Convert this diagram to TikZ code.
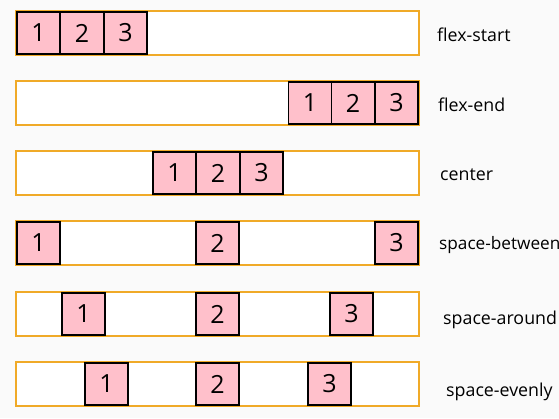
\documentclass[tikz,border=0pt]{standalone}
\usepackage{fontspec}
\setmainfont{Open Sans}
\usepackage{tikz}
\usepackage{xcolor}

\definecolor{boxline}{RGB}{240,170,40}
\definecolor{itempink}{RGB}{255,192,203}
\definecolor{pagebg}{RGB}{250,250,250}

\tikzset{
  flexbox/.style={rectangle, draw=boxline, line width=1.5pt, fill=white, minimum width=403pt, minimum height=44pt, inner sep=0pt},
  flexitem/.style={rectangle, draw=black, line width=1.6pt, fill=itempink, minimum width=43pt, minimum height=42pt, inner sep=0pt, font=\fontsize{25}{27}\selectfont},
  flexlabel/.style={anchor=west, inner sep=0pt, font=\fontsize{17.8}{19}\selectfont}
}

\begin{document}
\begin{tikzpicture}[x=1pt, y=-1pt]
\fill[pagebg] (0,0) rectangle (559,418);
\useasboundingbox (0,0) rectangle (559,418);

% flex-start
\node[flexbox] (row1) at (217.5,33) {};
\node[flexitem] (s1) at (38.5,33) {1};
\node[flexitem] (s2) at (82,33) {2};
\node[flexitem] (s3) at (125.5,33) {3};
\node[flexlabel] (l1) at (437,35) {flex-start};

% flex-end
\node[flexbox] (row2) at (217.5,103) {};
\node[flexitem] (e1) at (310,103) {1};
\node[flexitem] (e2) at (353,103) {2};
\node[flexitem] (e3) at (396.5,103) {3};
\node[flexlabel] (l2) at (438,105) {flex-end};

% center
\node[flexbox] (row3) at (217.5,173) {};
\node[flexitem] (c1) at (174.5,173) {1};
\node[flexitem] (c2) at (218,173) {2};
\node[flexitem] (c3) at (261.5,173) {3};
\node[flexlabel] (l3) at (440,175) {center};

% space-between
\node[flexbox] (row4) at (217.5,243) {};
\node[flexitem] (b1) at (38.5,243) {1};
\node[flexitem] (b2) at (217.5,243) {2};
\node[flexitem] (b3) at (396.5,243) {3};
\node[flexlabel, font=\fontsize{17.2}{19}\selectfont] (l4) at (439,245) {space-between};

% space-around
\node[flexbox] (row5) at (217.5,314) {};
\node[flexitem] (a1) at (83.5,314) {1};
\node[flexitem] (a2) at (217.5,314) {2};
\node[flexitem] (a3) at (351.5,314) {3};
\node[flexlabel] (l5) at (443,320) {space-around};

% space-evenly
\node[flexbox] (row6) at (217.5,384) {};
\node[flexitem] (v1) at (106.5,384) {1};
\node[flexitem] (v2) at (217.5,384) {2};
\node[flexitem] (v3) at (329.5,384) {3};
\node[flexlabel] (l6) at (446,392) {space-evenly};
\end{tikzpicture}
\end{document}
